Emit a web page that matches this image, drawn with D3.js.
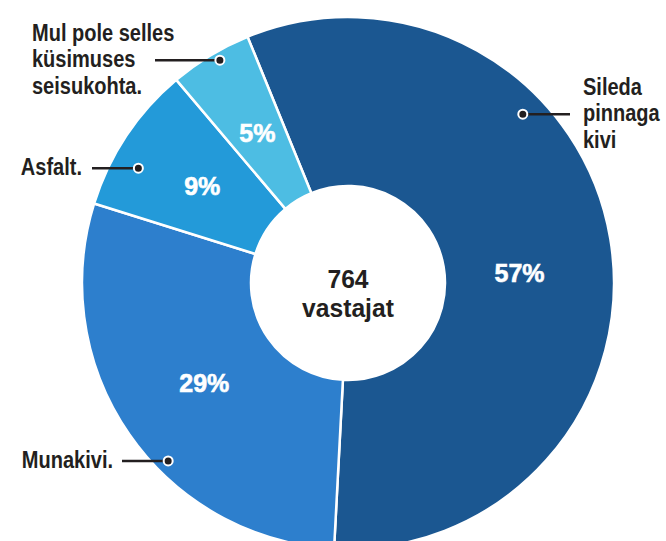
<!DOCTYPE html>
<html>
<head>
<meta charset="utf-8">
<script src="https://cdn.jsdelivr.net/npm/d3@7"></script>
<style>
    body { margin: 0; background: #fff; }
    .label { font-family: 'Liberation Sans', Arial, sans-serif; font-weight: bold; fill: #231f20; }
    .pct { font-family: 'Liberation Sans', Arial, sans-serif; font-weight: bold; fill: #fff; }
</style>
</head>
<body>
<svg id="chart"></svg>
<script>
// survey answers, clockwise from the top
const categories = ['Sileda pinnaga kivi', 'Munakivi.', 'Asfalt.', 'Mul pole selles küsimuses seisukohta.'];
const labelLines = [['Sileda', 'pinnaga', 'kivi'], ['Munakivi.'], ['Asfalt.'], ['Mul pole selles', 'küsimuses', 'seisukohta.']];
const shares = [57, 29, 9, 5];
const respondents = 764;
const respondentsLabel = 'vastajat';

const width = 666, height = 541;
const cx = 348, cy = 283;
const outerR = 266, innerR = 97;
const narrow = 0.87; // no condensed font here, so squeeze a regular bold one

// hand placed callouts (angle in degrees clockwise from top)
const callouts = [
    { angle: 46, r: 243, lineTo: 570, textX: 583, anchor: 'start' },
    { angle: 225.3, r: 253, lineTo: 122, textX: 113, anchor: 'end' },
    { angle: 298.7, r: 239, lineTo: 92, textX: 82, anchor: 'end' },
    { angle: 330.1, r: 257, lineTo: 155, textX: 32, anchor: 'start' }
];
// the big slice has its number pushed a bit down
const pctNudge = [[-1, 19], [0, 0], [0, 0], [0, 0]];

const svg = d3.select('#chart')
    .attr('width', width)
    .attr('height', height);

const chart = svg.append('g')
    .attr('transform', `translate(${cx}, ${cy})`);

const color = d3.scaleOrdinal()
    .domain(categories)
    .range(['#1b5791', '#2d7fcd', '#239ad9', '#4dbde3']);

const startAngle = -22.2 * Math.PI / 180;
const pie = d3.pie()
    .sort(null)
    .value(d => d.value)
    .startAngle(startAngle)
    .endAngle(startAngle + 2 * Math.PI);

const data = categories.map((c, i) => ({ name: c, value: shares[i], lines: labelLines[i] }));
const arcs = pie(data);

const arc = d3.arc().innerRadius(innerR).outerRadius(outerR);
const labelArc = d3.arc().innerRadius(175).outerRadius(175);

chart.selectAll('.slice')
    .data(arcs)
    .join('path')
    .attr('class', 'slice')
    .attr('d', arc)
    .attr('fill', d => color(d.data.name))
    .attr('stroke', '#fff')
    .attr('stroke-width', 2.5)
    .attr('stroke-linejoin', 'round');

chart.selectAll('.pct')
    .data(arcs)
    .join('text')
    .attr('class', 'pct')
    .attr('text-anchor', 'middle')
    .attr('dy', '0.36em')
    .attr('font-size', 25)
    .attr('stroke', '#fff')
    .attr('stroke-width', 0.6)
    .attr('transform', (d, i) => {
        const [x, y] = labelArc.centroid(d);
        return `translate(${x + pctNudge[i][0]}, ${y + pctNudge[i][1]})`;
    })
    .text(d => d.data.value + '%');

// centre
const centre = chart.append('g')
    .attr('transform', 'scale(0.93, 1)');

centre.append('text')
    .attr('class', 'label')
    .attr('text-anchor', 'middle')
    .attr('font-size', 26.5)
    .attr('y', 5)
    .text(respondents);

centre.append('text')
    .attr('class', 'label')
    .attr('text-anchor', 'middle')
    .attr('font-size', 26.5)
    .attr('y', 34)
    .text(respondentsLabel);

// callouts
const lineH = 26.5;
const callG = svg.selectAll('.callout')
    .data(data)
    .join('g')
    .attr('class', 'callout');

callG.each(function (d, i) {
    const g = d3.select(this);
    const c = callouts[i];
    const a = c.angle * Math.PI / 180;
    const px = cx + c.r * Math.sin(a);
    const py = cy - c.r * Math.cos(a);

    g.append('line')
        .attr('x1', px).attr('y1', py)
        .attr('x2', c.lineTo).attr('y2', py)
        .attr('stroke', '#231f20')
        .attr('stroke-width', 2.5);

    g.append('circle')
        .attr('cx', px).attr('cy', py)
        .attr('r', 4.5)
        .attr('fill', '#231f20')
        .attr('stroke', '#fff')
        .attr('stroke-width', 2);

    const n = d.lines.length;
    const base = 7 - (n - 1) / 2 * lineH;
    g.append('g')
        .attr('transform', `translate(${c.textX}, ${py}) scale(${narrow}, 1)`)
        .append('text')
        .attr('class', 'label')
        .attr('font-size', 23)
        .attr('text-anchor', c.anchor)
        .selectAll('tspan')
        .data(d.lines)
        .join('tspan')
        .attr('x', 0)
        .attr('y', (t, j) => base + j * lineH)
        .text(t => t);
});
</script>
</body>
</html>
